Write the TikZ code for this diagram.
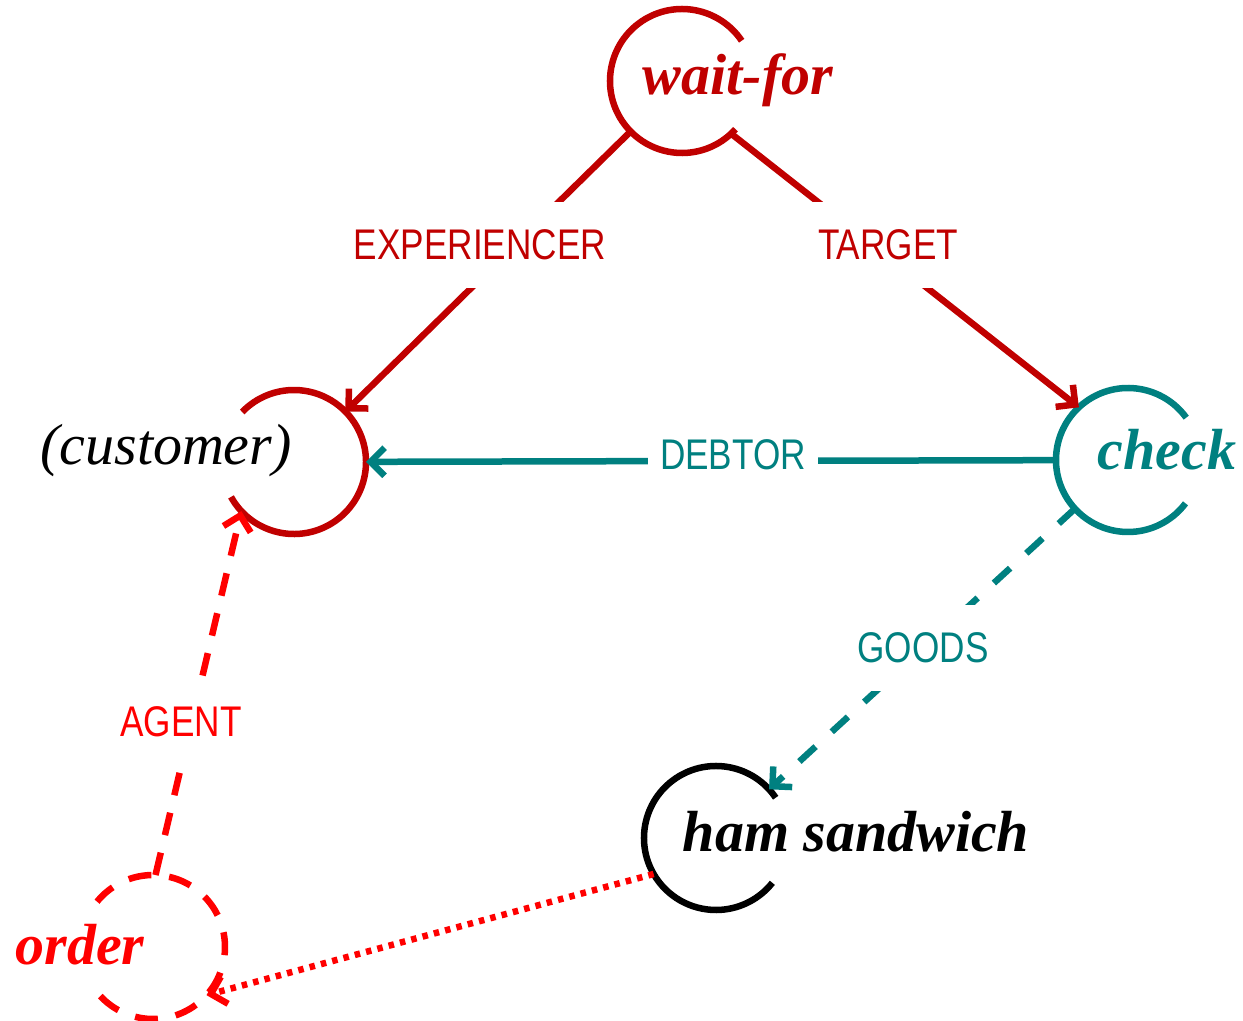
\documentclass[tikz,border=0pt]{standalone}
\usepackage{fontspec}
\setmainfont{Liberation Serif}
\newfontfamily\lblfont[FakeStretch=0.82]{Liberation Sans}
\usetikzlibrary{arrows.meta}

\definecolor{framered}{RGB}{192,0,0}
\definecolor{frameteal}{RGB}{0,128,128}
\definecolor{brightred}{RGB}{255,0,0}

\begin{document}
\begin{tikzpicture}[>={Straight Barb[length=0.14cm,width=0.28cm]},
            line width=0.065cm,
            concept/.style={circle,minimum size=1.44cm,inner sep=0pt,outer sep=0pt},
            word/.style={font=\fontsize{16.5}{20}\selectfont\bfseries\itshape,
                         inner sep=0pt,anchor=base},
            lbl/.style={font=\lblfont\fontsize{12.2}{14}\selectfont,fill=white,
                        inner xsep=0.125cm,minimum height=0.86cm},
            longdash/.style={dash pattern=on 0.23cm off 0.18cm},
            goodsdash/.style={dash pattern=on 0.22cm off 0.22cm},
            squaredots/.style={dash pattern=on 0.055cm off 0.062cm}]

        \useasboundingbox (0,0) rectangle (12.43,10.21);

        \node[concept] (waitfor) at (6.82,9.40) {};
        \node[concept] (cust)    at (2.94,5.59) {};
        \node[concept] (check)   at (11.28,5.61) {};
        \node[concept] (ham)     at (7.16,1.83) {};
        \node[concept] (order)   at (1.53,0.74) {};

        % open circles
        \draw[framered]  (waitfor.34) arc[start angle=34,end angle=318,radius=0.72cm];
        \draw[framered]  (cust.-151)  arc[start angle=-151,end angle=136,radius=0.72cm];
        \draw[frameteal] (check.36)   arc[start angle=36,end angle=323,radius=0.72cm];
        \draw[black]     (ham.34)     arc[start angle=34,end angle=321.5,radius=0.72cm];
        \draw[brightred,longdash] (order.-137) arc[start angle=-137,end angle=141,radius=0.72cm];

        \node[word,text=framered]  (twaitfor) at (7.38,9.26)  {wait-for};
        \node[word,font=\fontsize{16.5}{20}\selectfont\itshape] (tcust) at (1.66,5.56) {(customer)};
        \node[word,text=frameteal] (tcheck)   at (11.67,5.51) {check};
        \node[word]                (tham)     at (8.56,1.69)  {ham sandwich};
        \node[word,text=brightred] (torder)   at (0.80,0.56)  {order};

        \path[framered,->]  (waitfor)    edge (cust)
                            (waitfor.-47) edge (check.133);
        \path[frameteal,->] (check)      edge (cust)
                                         edge [goodsdash] (ham);
        \path[brightred,->] (order.88)   edge [longdash] (cust.223)
                            (ham.210)    edge [squaredots] (order.-42);

        \node[lbl,text=framered]  (lexp)    at (4.80,7.76) {EXPERIENCER};
        \node[lbl,text=framered]  (ltarget) at (8.88,7.76) {TARGET};
        \node[lbl,text=frameteal] (ldebtor) at (7.33,5.66) {DEBTOR};
        \node[lbl,text=frameteal] (lgoods)  at (9.23,3.73) {GOODS};
        \node[lbl,text=brightred] (lagent)  at (1.81,2.99) {AGENT};

\end{tikzpicture}
\end{document}
